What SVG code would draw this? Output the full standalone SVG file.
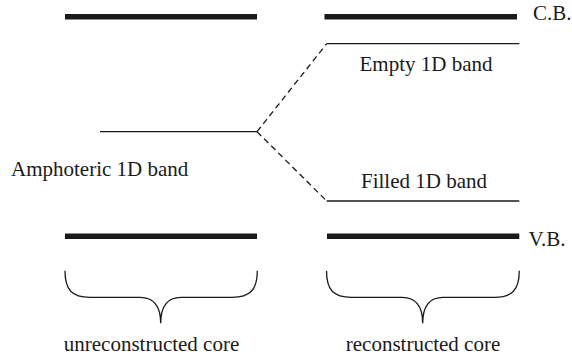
<svg xmlns="http://www.w3.org/2000/svg" width="572" height="363" viewBox="0 0 572 363">
<style>
.thick{stroke:#1a1a1a;stroke-width:5.5;fill:none}
.thin{stroke:#1a1a1a;stroke-width:1.3;fill:none}
.dash{stroke:#1a1a1a;stroke-width:1.3;fill:none;stroke-dasharray:6 4}
text{font-family:"Liberation Serif","Times New Roman",serif;font-size:21px;fill:#1a1a1a}
</style>
<rect width="572" height="363" fill="#fff"/>
<g id="cb-left"><line class="thick" x1="65" y1="16.7" x2="257" y2="16.7"/></g>
<g id="cb-right"><line class="thick" x1="324.5" y1="16.7" x2="517" y2="16.7"/><text x="533" y="19.5">C.B.</text></g>
<g id="vb-left"><line class="thick" x1="65" y1="236.2" x2="257" y2="236.2"/></g>
<g id="vb-right"><line class="thick" x1="327" y1="236.2" x2="519.3" y2="236.2"/><text x="528.5" y="246">V.B.</text></g>
<g id="amphoteric"><line class="thin" x1="100" y1="131.7" x2="257" y2="131.7"/><text x="11" y="175.7">Amphoteric 1D band</text></g>
<g id="empty"><line class="thin" x1="326.7" y1="43.7" x2="519.3" y2="43.7"/><text x="426" y="70.7" text-anchor="middle">Empty 1D band</text></g>
<g id="filled"><line class="thin" x1="326.7" y1="201" x2="519.3" y2="201"/><text x="424" y="188.3" text-anchor="middle">Filled 1D band</text></g>
<g id="connectors">
<path class="dash" d="M257,131.7 L326.7,43.7"/>
<path class="dash" d="M257,131.7 L326.7,201"/>
</g>
<g id="unreconstructed">
<path class="thin" d="M65,270.7 C65,290 72,297.3 90,297.3 L140,297.3 C155,297.3 160.7,308 160.7,323.3 C160.7,308 166,297.3 181,297.3 L232,297.3 C250,297.3 257.3,290 257.3,270.7"/>
<text x="151.5" y="350.7" text-anchor="middle">unreconstructed core</text>
</g>
<g id="reconstructed">
<path class="thin" d="M326.5,270.7 C326.5,290 333.5,297.3 351.5,297.3 L402,297.3 C417,297.3 422.7,308 422.7,323.3 C422.7,308 428,297.3 443,297.3 L494,297.3 C512,297.3 519.3,290 519.3,270.7"/>
<text x="423" y="350.7" text-anchor="middle">reconstructed core</text>
</g>
</svg>
